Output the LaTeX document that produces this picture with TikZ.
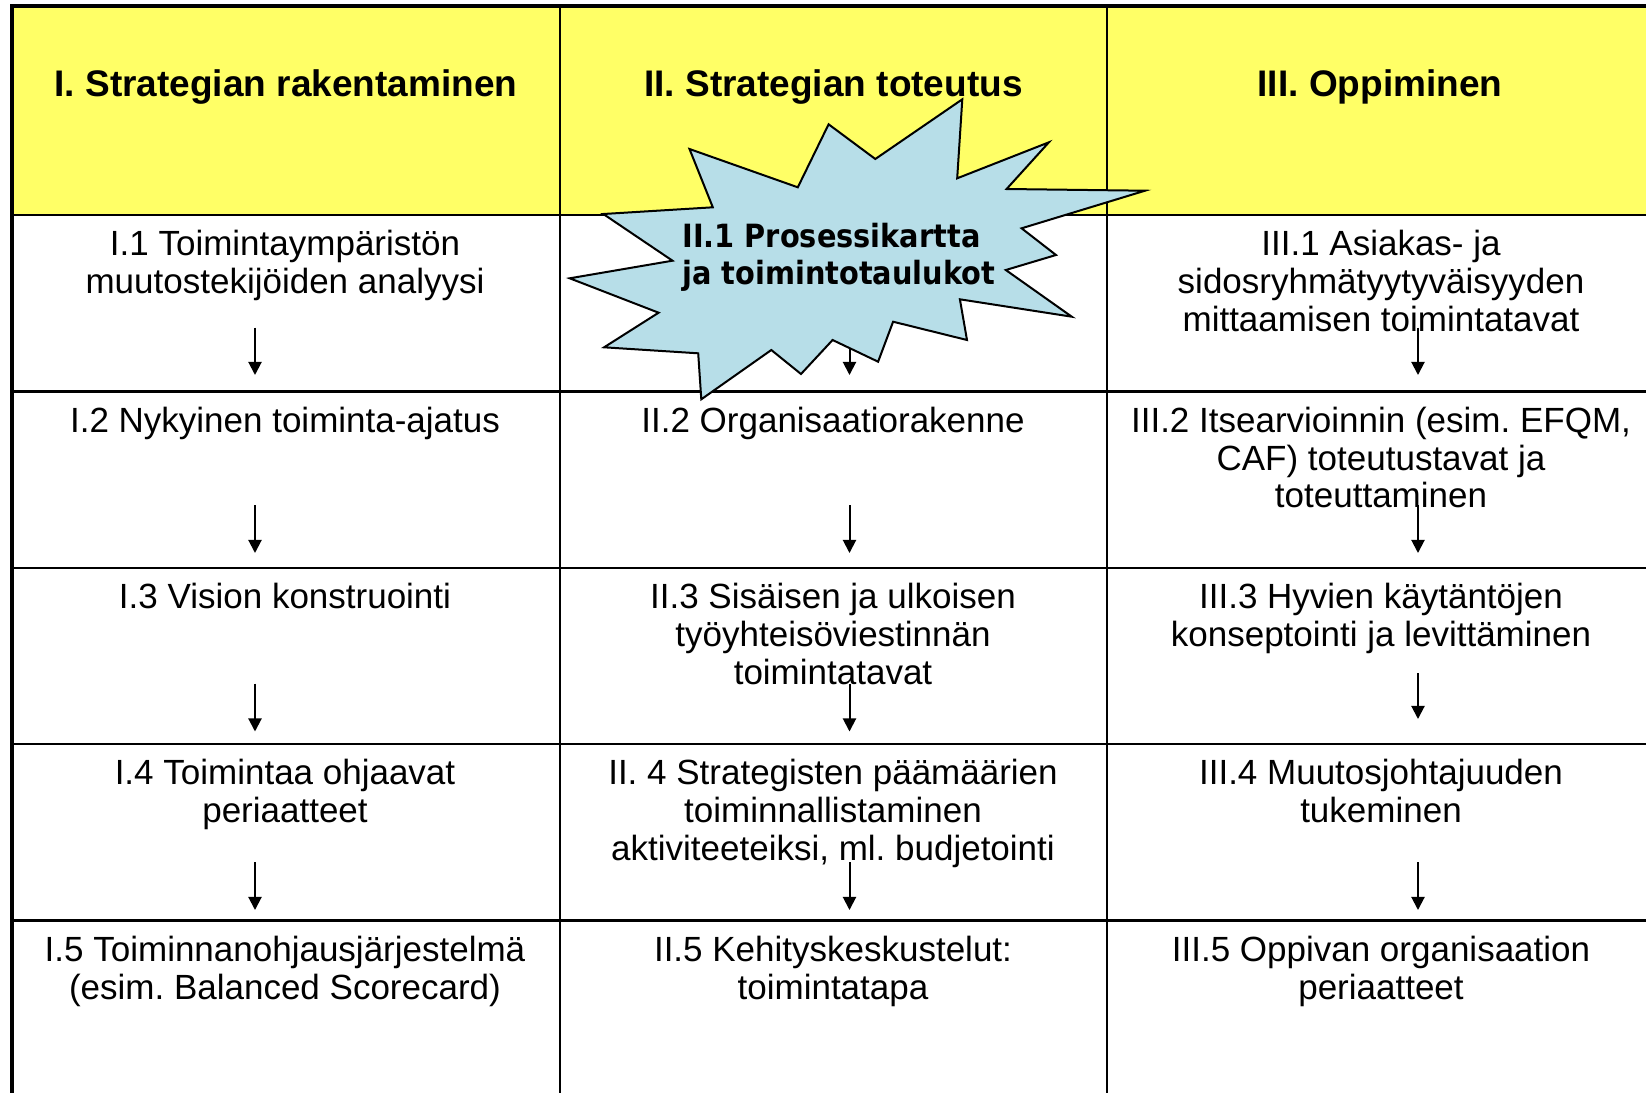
\documentclass[tikz,border=0pt]{standalone}
\usepackage{fontspec}
\setmainfont{Liberation Sans}
\newfontfamily\starfont{DejaVu Sans}[FakeStretch=0.9]
\usetikzlibrary{arrows.meta}
\frenchspacing

\definecolor{headyellow}{HTML}{FFFF66}
\definecolor{staraqua}{HTML}{B7DEE8}

\tikzset{
  cell/.style={anchor=north, align=center, inner sep=0pt, font=\fontsize{17.5}{18.9}\selectfont},
  head/.style={anchor=base, inner sep=0pt, font=\fontsize{18.5}{20}\selectfont\bfseries},
  rule/.style={line width=1.1pt},
  down/.style={line width=1pt, -{Triangle[length=6.6pt,width=6.6pt]}},
  burst/.style={draw, line width=1pt, fill=staraqua, line join=miter},
}

\begin{document}
\begin{tikzpicture}[x=0.5pt, y=-0.5pt]
    \useasboundingbox (0,0) rectangle (1646,1093);
    \fill [headyellow] (12,6) rectangle (1660,215);
    \draw [line width=2pt] (12,1100) -- (12,6) -- (1660,6);
    \draw [rule] (12,215) -- (1660,215);
    \foreach \y in {391.5,568,744,920.5}
      \draw [rule] (12,\y) -- (1660,\y);
    \foreach \x in {560,1107}
      \draw [rule] (\x,6) -- (\x,1100);

    \node [head] (h1) at (286,96) {I. Strategian rakentaminen};
    \node [head] (h2) at (833.5,96) {II. Strategian toteutus};
    \node [head] (h3) at (1380,96) {III. Oppiminen};

    \node [cell] (c11) at (285,230) {I.1 Toimintaympäristön\\muutostekijöiden analyysi};
    \node [cell] (c12) at (285,406.5) {I.2 Nykyinen toiminta-ajatus};
    \node [cell] (c13) at (285,583) {I.3 Vision konstruointi};
    \node [cell] (c14) at (285,759) {I.4 Toimintaa ohjaavat\\periaatteet};
    \node [cell] (c15) at (285,935.5) {I.5 Toiminnanohjausjärjestelmä\\(esim. Balanced Scorecard)};

    \node [cell] (c22) at (833,406.5) {II.2 Organisaatiorakenne};
    \node [cell] (c23) at (833,583) {II.3 Sisäisen ja ulkoisen\\työyhteisöviestinnän\\toimintatavat};
    \node [cell] (c24) at (833,759) {II. 4 Strategisten päämäärien\\toiminnallistaminen\\aktiviteeteiksi, ml. budjetointi};
    \node [cell] (c25) at (833,935.5) {II.5 Kehityskeskustelut:\\toimintatapa};

    \node [cell] (c31) at (1381,230) {III.1 Asiakas- ja\\sidosryhmätyytyväisyyden\\mittaamisen toimintatavat};
    \node [cell] (c32) at (1381,406.5) {III.2 Itsearvioinnin (esim. EFQM,\\CAF) toteutustavat ja\\toteuttaminen};
    \node [cell] (c33) at (1381,583) {III.3 Hyvien käytäntöjen\\konseptointi ja levittäminen};
    \node [cell] (c34) at (1381,759) {III.4 Muutosjohtajuuden\\tukeminen};
    \node [cell] (c35) at (1381,935.5) {III.5 Oppivan organisaation\\periaatteet};

    \foreach \n/\x/\ya/\yb in {a11/255/327.5/375, a12/255/505/553, a13/255/683.5/731.5, a14/255/862/910,
                               a21/849.5/327.5/375, a22/849.5/505/553, a23/849.5/683.5/731.5, a24/849.5/862/910,
                               a31/1418/327.5/375, a32/1418/505/553, a33/1418/673/719, a34/1418/862/910} {
      \coordinate (\n s) at (\x,\ya);
      \coordinate (\n e) at (\x,\yb);
      \draw [down] (\n s) -- (\n e);
    }

    \draw [burst] (962.3,99.3) -- (957.2,178.3) -- (1048.9,142.3) -- (1006.6,189) -- (1145,190.7)
      -- (1021.6,228.3) -- (1056,255) -- (1005.8,270) -- (1071.8,316.7) -- (959.9,299.3)
      -- (967,340) -- (893.1,321.7) -- (878.1,361.7) -- (832.6,340) -- (801,374)
      -- (771.3,350) -- (701.3,399.3) -- (698.2,353.3) -- (604.1,347.3) -- (658.6,312.7)
      -- (569.7,278.3) -- (672.5,260.7) -- (603.3,214) -- (712.8,207.3) -- (689.5,149)
      -- (797.8,187.3) -- (828.6,124.3) -- (875.3,159) -- cycle;
    \node [anchor=north west, align=left, inner sep=0pt,
           font=\starfont\bfseries\fontsize{16}{18.85}\selectfont] (s1) at (682,222.4)
      {II.1 Prosessikartta\\ja toimintotaulukot};
\end{tikzpicture}
\end{document}
